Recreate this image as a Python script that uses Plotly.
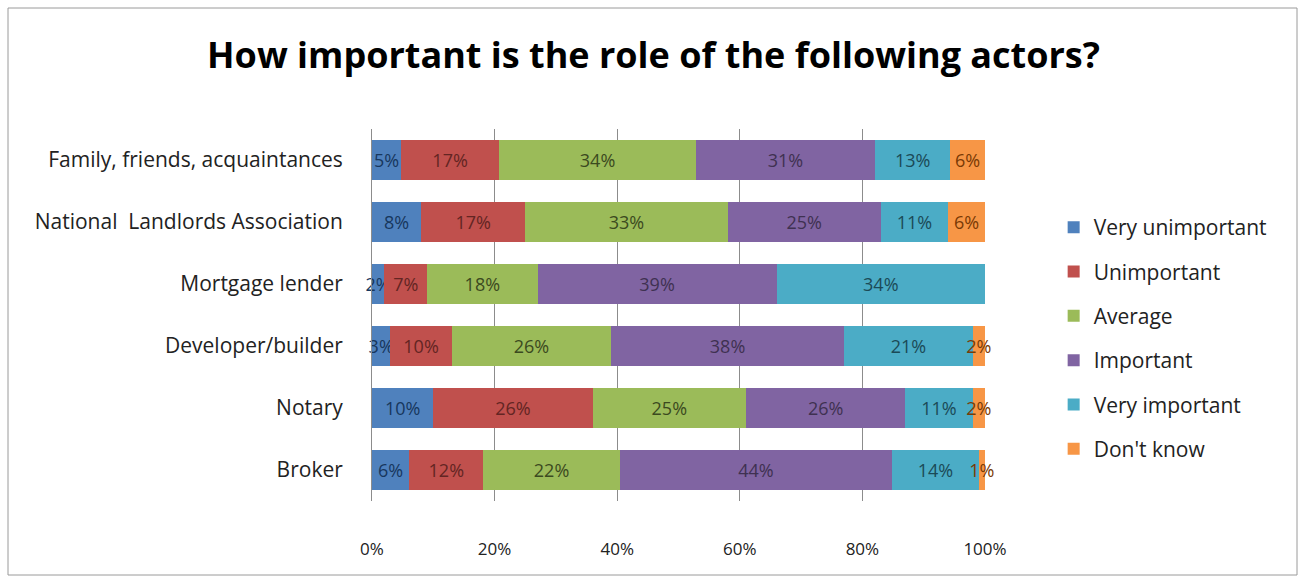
import plotly.graph_objects as go

categories = ["Family, friends, acquaintances", "National  Landlords Association",
              "Mortgage lender", "Developer/builder", "Notary", "Broker"]
series_names = ["Very unimportant", "Unimportant", "Average", "Important",
                "Very important", "Don't know"]
very_unimportant = [5, 8, 2, 3, 10, 6]
unimportant = [17, 17, 7, 10, 26, 12]
average = [34, 33, 18, 26, 25, 22]
important = [31, 25, 39, 38, 26, 44]
very_important = [13, 11, 34, 21, 11, 14]
dont_know = [6, 6, 0, 2, 2, 1]
x_ticks = [0, 20, 40, 60, 80, 100]
x_tick_labels = ["0%", "20%", "40%", "60%", "80%", "100%"]

values = [very_unimportant, unimportant, average, important, very_important, dont_know]
colors = ["#4F81BD", "#C0504D", "#9BBB59", "#8064A2", "#4BACC6", "#F79646"]
text_colors = ["#17375E", "#632523", "#3B4A1F", "#3F3151", "#1B4A57", "#7A3A05"]

FONT = "'Open Sans', Lato, sans-serif"

fig = go.Figure()
for name, vals, c, tc in zip(series_names, values, colors, text_colors):
    fig.add_trace(go.Bar(
        y=categories, x=vals, name=name, orientation="h",
        marker=dict(color=c, line=dict(width=0)),
        text=[f"{v}%" if v > 0 else "" for v in vals],
        textposition="inside", insidetextanchor="middle", textangle=0,
        textfont=dict(size=18, color=tc, family=FONT),
        legendgroup=name, cliponaxis=False,
    ))

fig.update_layout(
    width=1307, height=583,
    barmode="stack", barnorm="percent", bargap=0.35,
    paper_bgcolor="white", plot_bgcolor="white",
    margin=dict(l=372, r=322, t=129, b=82),
    title=dict(text="<b>How important is the role of the following actors?</b>",
               x=0.5, xanchor="center", y=0.905, yanchor="middle",
               font=dict(size=36, family=FONT, color="#000")),
    uniformtext=dict(minsize=18, mode="show"),
    legend=dict(x=1.112, xanchor="left", y=0.79, yanchor="top",
                traceorder="grouped", tracegroupgap=14,
                font=dict(size=21, family=FONT, color="#222"),
                itemwidth=30),
    font=dict(family=FONT),
    xaxis=dict(range=[0, 100], tickvals=x_ticks, ticktext=x_tick_labels,
               showgrid=True, gridcolor="#8c8c8c", gridwidth=1,
               zeroline=False, showline=False, ticklabelstandoff=36,
               tickfont=dict(size=17, color="#222", family=FONT)),
    yaxis=dict(categoryorder="array", categoryarray=categories, autorange="reversed",
               showgrid=False, ticklabelstandoff=24, showline=True, linecolor="#8c8c8c",
               tickfont=dict(size=21, color="#222", family=FONT)),
    shapes=[dict(type="rect", xref="paper", yref="paper",
                 x0=-364/613, x1=(1297-372)/613, y0=-(575-501)/372, y1=1+(129-8)/372,
                 line=dict(color="#9a9a9a", width=1), fillcolor="rgba(0,0,0,0)", layer="below")],
)

fig.write_html("out.html")
